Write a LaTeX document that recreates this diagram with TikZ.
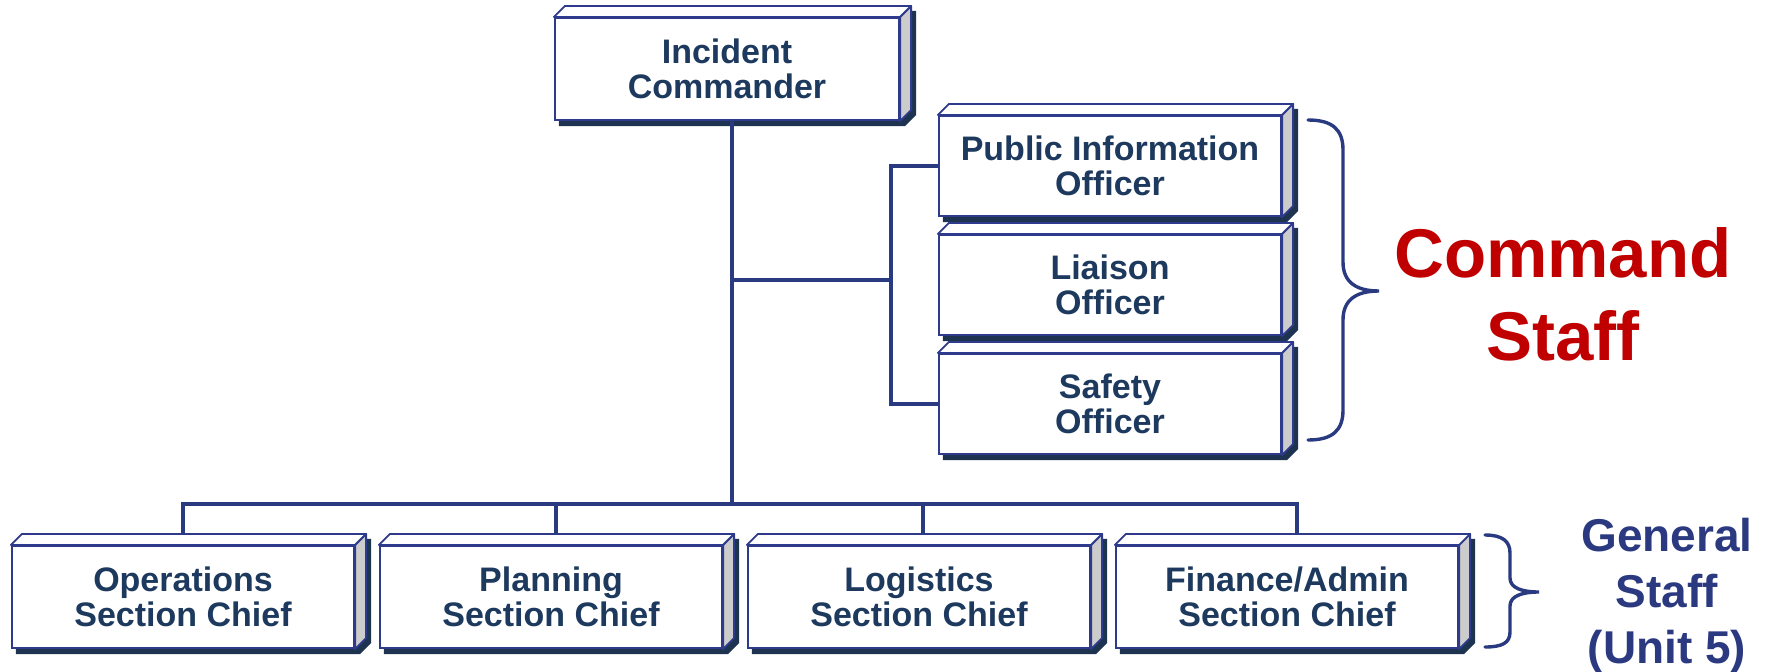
\documentclass[tikz,border=0pt]{standalone}
\usepackage{fontspec}
\setmainfont{Liberation Sans}
\usetikzlibrary{backgrounds}
\definecolor{linec}{HTML}{2A3A80}
\definecolor{boxline}{HTML}{2E3B8C}
\definecolor{boxtext}{HTML}{1D3A5E}
\definecolor{shadowc}{HTML}{1E3350}
\definecolor{sidegray}{HTML}{CCCCCC}
\definecolor{cmdred}{HTML}{C00000}
\definecolor{genblue}{HTML}{2B3A80}
\begin{document}
\begin{tikzpicture}[x=1pt,y=-1pt,
  orgbox/.style={draw=boxline, line width=2.2pt, fill=white, inner sep=0pt,
    minimum width=342pt, minimum height=100pt, align=center, text=boxtext,
    font=\fontsize{34}{35}\selectfont\bfseries},
  conn/.style={draw=linec, line width=4.6pt},
  bracec/.style={draw=linec, line width=3.4pt, line cap=round},
  face/.style={draw=boxline, line width=1.8pt, line join=round},
  bigtext/.style={align=center, anchor=north, inner sep=0pt}]
\useasboundingbox (0,0) rectangle (1770,672);

% boxes
\node[orgbox, minimum width=344pt, minimum height=102pt] (ic) at (727,69) {Incident\\Commander};
\node[orgbox] (pio) at (1110,166) {Public Information\\Officer};
\node[orgbox] (lia) at (1110,285) {Liaison\\Officer};
\node[orgbox] (saf) at (1110,404) {Safety\\Officer};
\node[orgbox, minimum height=102pt] (ops) at (183,597) {Operations\\Section Chief};
\node[orgbox, minimum height=102pt] (pla) at (551,597) {Planning\\Section Chief};
\node[orgbox, minimum height=102pt] (log) at (919,597) {Logistics\\Section Chief};
\node[orgbox, minimum height=102pt] (fin) at (1287,597) {Finance/Admin\\Section Chief};

% 3D faces and shadows
\begin{scope}[on background layer]
\foreach \n in {ic,pio,lia,saf,ops,pla,log,fin} {
  \fill[shadowc] ([shift={(5,5)}]\n.south west) -- ([shift={(5,5)}]\n.south east)
    -- ([shift={(16,-6)}]\n.south east) -- ([shift={(16,-6)}]\n.north east)
    -- ([shift={(16,-6)}]\n.north west) -- ([shift={(5,5)}]\n.north west) -- cycle;
  \filldraw[face, fill=sidegray] (\n.north east) -- ([shift={(11,-11)}]\n.north east)
    -- ([shift={(11,-11)}]\n.south east) -- (\n.south east) -- cycle;
  \filldraw[face, fill=white] (\n.north west) -- ([shift={(11,-11)}]\n.north west)
    -- ([shift={(11,-11)}]\n.north east) -- (\n.north east) -- cycle;
}
\end{scope}

% connectors
\coordinate (bus) at (732,504);
\coordinate (cmdj) at (732,280);
\coordinate (cmdv) at (891,280);
\coordinate (icB) at ([xshift=5pt]ic.south);
\coordinate (opsT) at ([yshift=11pt]ops.north);
\coordinate (plaT) at ([xshift=5pt,yshift=11pt]pla.north);
\coordinate (logT) at ([xshift=4pt,yshift=11pt]log.north);
\coordinate (finT) at ([xshift=10pt,yshift=11pt]fin.north);
\draw[conn] (icB) -- (bus);
\draw[conn] (cmdj) -- (cmdv);
\draw[conn] (pio.west) -| (cmdv) |- (saf.west);
\draw[conn] (opsT) |- (bus) -| (finT);
\draw[conn] (plaT) -- (plaT |- bus);
\draw[conn] (logT) -- (logT |- bus);

% braces
\draw[bracec] (1308,120) .. controls (1333,120) and (1343,130) .. (1343,150) -- (1343,262)
  .. controls (1343,282) and (1356,291) .. (1379,291)
  .. controls (1356,291) and (1343,300) .. (1343,320) -- (1343,410)
  .. controls (1343,430) and (1333,440) .. (1308,440);
\draw[bracec] (1485,535) .. controls (1502,535) and (1510,541) .. (1510,553) -- (1510,578)
  .. controls (1510,588) and (1522,592) .. (1539,592)
  .. controls (1522,592) and (1510,596) .. (1510,606) -- (1510,632)
  .. controls (1510,643) and (1502,647) .. (1485,647);

% labels
\node[bigtext, text=cmdred, font=\fontsize{69}{83}\selectfont\bfseries] (cmd) at (1563,227) {Command\\Staff};
\node[bigtext, text=genblue, font=\fontsize{46}{56}\selectfont\bfseries] (gen) at (1667,518) {General\\Staff\\(Unit 5)};
\end{tikzpicture}
\end{document}
